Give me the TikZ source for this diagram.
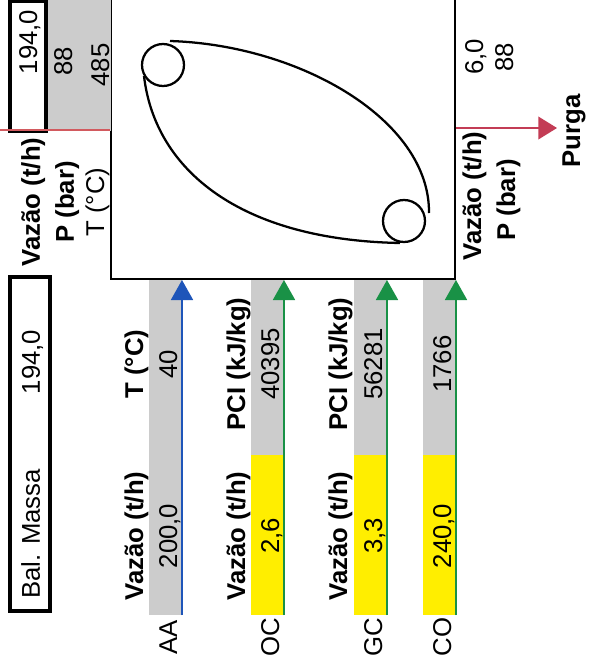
\documentclass[tikz,border=0pt]{standalone}
\usepackage{fontspec}
\setmainfont{Liberation Sans}
\usepackage{tikz}
\usetikzlibrary{arrows.meta, positioning, fit}
\definecolor{stripgray}{RGB}{204,204,204}
\definecolor{fuelyellow}{RGB}{255,238,0}
\definecolor{aablue}{RGB}{30,85,185}
\definecolor{fuelgreen}{RGB}{25,145,70}
\definecolor{steamred}{RGB}{210,90,95}
\definecolor{purgared}{RGB}{195,60,85}
\tikzset{
  txt/.style   = {rotate=90, anchor=base, inner sep=0pt, font=\fontsize{19.3}{21}\selectfont},
  hdr/.style   = {txt, font=\fontsize{19.3}{21}\selectfont\bfseries},
  valbox/.style = {draw, line width=2.6pt, inner sep=0pt},
  feed/.style  = {line width=1.3pt, -{Triangle[length=15pt, width=16.5pt]}},
  drum/.style  = {circle, draw, line width=1.7pt, minimum size=31.5pt, inner sep=0pt},
  tube/.style  = {line width=1.7pt},
}

\begin{document}
\begin{tikzpicture}[x=0.75pt, y=-0.75pt]
    \useasboundingbox (0,0) rectangle (593,665);

    %% Caldeira (main box) with drums and tube bundle
    \coordinate (bxA) at (111,-3);
    \coordinate (bxB) at (455,279);
    \node[draw, line width=1.5pt, inner sep=0pt, fit=(bxA)(bxB)] (cald) {};
    \node[drum] (drumS) at (163,65) {};
    \node[drum] (drumI) at (404,221) {};
    \draw[tube] (170,41) .. controls (300,45) and (430,120) .. (429,213);
    \draw[tube] (144,76) .. controls (155,170) and (240,240) .. (400,243);

    %% Vapor (top left)
    \fill[stripgray] (46,0) rectangle (111,131);
    \coordinate (vbA) at (10,1);
    \coordinate (vbB) at (46,131);
    \node[valbox, fit=(vbA)(vbB)] (vapbox) {};
    \coordinate (vap) at (0,130);
    \draw[steamred, line width=1.2pt] (vap) -- (vap -| cald.west);
    \node[txt] (vapVz)  at (37,42)  {194,0};
    \node[txt] (vapP)   at (72,61)  {88};
    \node[txt] (vapT)   at (109,65) {485};
    \node[hdr] (vapVzH) at (40,202) {Vazão (t/h)};
    \node[hdr] (vapPH)  at (74,202) {P (bar)};
    \node[txt] (vapTH)  at (104,202) {T (°C)};

    %% Purga (right)
    \coordinate (pg) at (557,128);
    \draw[purgared, line width=1.2pt, -{Triangle[length=14pt, width=17pt]}] (pg -| cald.east) -- (pg);
    \node[hdr] (pgName) at (580,131) {Purga};
    \node[txt] (pgVz)   at (483,57)  {6,0};
    \node[txt] (pgP)    at (513,57)  {88};
    \node[hdr] (pgVzH)  at (481,196) {Vazão (t/h)};
    \node[hdr] (pgPH)   at (515,200) {P (bar)};

    %% Bal. Massa
    \coordinate (bmA) at (10,277);
    \coordinate (bmB) at (50,611);
    \node[valbox, fit=(bmA)(bmB)] (balbox) {};
    \node[txt] (balName) at (40,534) {Bal. Massa};
    \node[txt] (balVal)  at (40,362) {194,0};

    %% Feed strips
    \fill[stripgray]  (149,280) rectangle (182,615);
    \fill[stripgray]  (251,280) rectangle (284,455);
    \fill[fuelyellow] (251,455) rectangle (284,615);
    \fill[stripgray]  (354,280) rectangle (387,455);
    \fill[fuelyellow] (354,455) rectangle (387,615);
    \fill[stripgray]  (423,280) rectangle (456,455);
    \fill[fuelyellow] (423,455) rectangle (456,615);

    %% Feed arrows into the box
    \coordinate (aa) at (182,615);
    \coordinate (oc) at (284,615);
    \coordinate (gc) at (387,615);
    \coordinate (co) at (456,615);
    \draw[feed, aablue]    (aa) -- (aa |- cald.south);
    \draw[feed, fuelgreen] (oc) -- (oc |- cald.south);
    \draw[feed, fuelgreen] (gc) -- (gc |- cald.south);
    \draw[feed, fuelgreen] (co) -- (co |- cald.south);

    %% AA
    \node[txt] (aaName) at (177,637) {AA};
    \node[hdr] (aaVzH)  at (143,536) {Vazão (t/h)};
    \node[txt] (aaVz)   at (177,536) {200,0};
    \node[hdr] (aaTH)   at (143,364) {T (°C)};
    \node[txt] (aaT)    at (177,364) {40};

    %% OC
    \node[txt] (ocName) at (279,637) {OC};
    \node[hdr] (ocVzH)  at (245,536) {Vazão (t/h)};
    \node[txt] (ocVz)   at (279,536) {2,6};
    \node[hdr] (ocPH)   at (245,364) {PCI (kJ/kg)};
    \node[txt] (ocP)    at (279,364) {40395};

    %% GC
    \node[txt] (gcName) at (382,637) {GC};
    \node[hdr] (gcVzH)  at (347,536) {Vazão (t/h)};
    \node[txt] (gcVz)   at (382,536) {3,3};
    \node[hdr] (gcPH)   at (347,364) {PCI (kJ/kg)};
    \node[txt] (gcP)    at (382,364) {56281};

    %% CO
    \node[txt] (coName) at (451,637) {CO};
    \node[txt] (coVz)   at (451,536) {240,0};
    \node[txt] (coP)    at (451,364) {1766};

\end{tikzpicture}
\end{document}
